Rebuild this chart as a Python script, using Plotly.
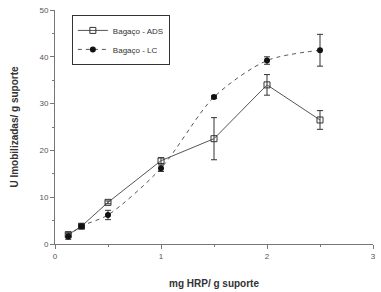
import plotly.graph_objects as go

x_vals = [0.125, 0.25, 0.5, 1.0, 1.5, 2.0, 2.5]
ads_y = [2.0, 3.8, 8.9, 17.8, 22.5, 34.0, 26.5]
ads_err = [0.5, 0.4, 0.3, 0.6, 4.5, 2.2, 2.0]
lc_y = [1.6, 3.8, 6.2, 16.2, 31.4, 39.2, 41.4]
lc_err = [0.6, 0.5, 1.0, 0.7, 0.3, 0.8, 3.4]

x_ticks = [0, 1, 2, 3]
y_ticks = [0, 10, 20, 30, 40, 50]

fig = go.Figure()
fig.add_trace(go.Scatter(
    x=x_vals, y=ads_y, name="Bagaço - ADS", mode="lines+markers",
    line=dict(color="#555555", width=1),
    marker=dict(symbol="square-open", size=6, color="#333333", line=dict(width=1)),
    error_y=dict(type="data", array=ads_err, color="#333333", thickness=1, width=3),
))
fig.add_trace(go.Scatter(
    x=x_vals, y=lc_y, name="Bagaço - LC", mode="lines+markers",
    line=dict(color="#555555", width=1, dash="4px,4px", shape="spline", smoothing=0.8),
    marker=dict(symbol="circle", size=6, color="#111111"),
    error_y=dict(type="data", array=lc_err, color="#333333", thickness=1, width=3),
))

tickfont = dict(family="Liberation Sans, Arial, sans-serif", size=8, color="#555555")
fig.update_layout(
    width=381, height=292,
    margin=dict(l=55, r=8, t=10, b=48),
    paper_bgcolor="white", plot_bgcolor="white",
    font=dict(family="Liberation Sans, Arial, sans-serif", color="#222222"),
    legend=dict(x=0.053, y=0.979, xanchor="left", yanchor="top",
                bordercolor="#333333", borderwidth=1, bgcolor="white",
                font=dict(size=8, color="#333333"), itemwidth=30,
                tracegroupgap=0),
    xaxis=dict(range=[0, 3], tickvals=x_ticks, ticktext=[str(t) for t in x_ticks],
               automargin=False, ticklabeloverflow="allow",
               showgrid=False, zeroline=False, showline=True, linecolor="#777777",
               linewidth=1, ticks="outside", ticklen=4, tickcolor="#777777",
               tickfont=tickfont,
               minor=dict(ticks="outside", dtick=0.5, ticklen=2, tickcolor="#777777"),
               title=dict(text="<b>mg HRP/ g suporte</b>", font=dict(size=10, color="#333333"),
                          standoff=20)),
    yaxis=dict(range=[0, 50], tickvals=y_ticks, ticktext=[str(t) for t in y_ticks],
               automargin=False, ticklabeloverflow="allow",
               showgrid=False, zeroline=False, showline=True, linecolor="#777777",
               linewidth=1, ticks="outside", ticklen=4, tickcolor="#777777",
               tickfont=tickfont,
               minor=dict(ticks="outside", dtick=5, ticklen=2, tickcolor="#777777"),
               title=dict(text="<b>U Imobilizadas/ g suporte</b>", font=dict(size=10, color="#333333"),
                          standoff=18)),
    showlegend=True,
)
fig.write_html("out.html", config={"displayModeBar": False},
               post_script="document.body.style.margin='0';document.body.style.overflow='hidden';")
